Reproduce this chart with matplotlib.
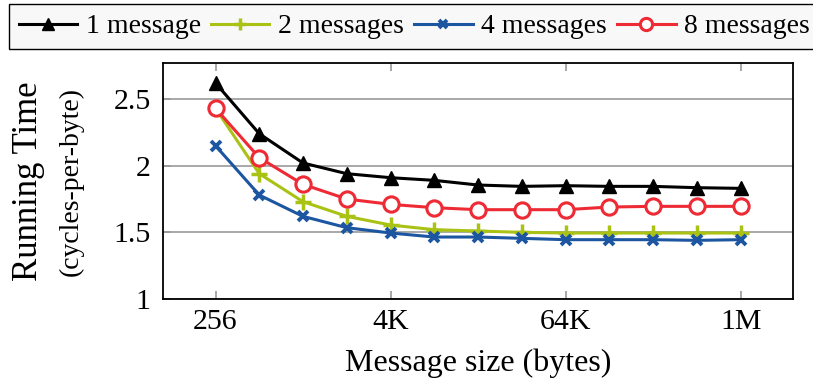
import numpy as np
import matplotlib.pyplot as plt

plt.rcParams['font.family'] = ['Liberation Serif', 'DejaVu Serif']

sizes = [256, 512, 1024, 2048, 4096, 8192, 16384, 32768, 65536,
         131072, 262144, 524288, 1048576]
one_msg = [2.62, 2.24, 2.02, 1.94, 1.91, 1.89, 1.855, 1.845, 1.85, 1.845, 1.845, 1.835, 1.83]
two_msg = [2.43, 1.94, 1.73, 1.62, 1.555, 1.52, 1.51, 1.50, 1.495, 1.495, 1.495, 1.495, 1.495]
four_msg = [2.15, 1.78, 1.62, 1.535, 1.495, 1.465, 1.465, 1.455, 1.445, 1.445, 1.445, 1.44, 1.445]
eight_msg = [2.43, 2.06, 1.86, 1.75, 1.71, 1.685, 1.67, 1.67, 1.67, 1.69, 1.695, 1.695, 1.695]

xticks = [256, 4096, 65536, 1048576]
xticklabels = ['256', '4K', '64K', '1M']
yticks = [1, 1.5, 2, 2.5]
yticklabels = ['1', '1.5', '2', '2.5']

fig = plt.figure(figsize=(8.13, 3.92), dpi=100)
ax = fig.add_axes([0.2005, 0.2372, 0.775, 0.602])

ax.plot(sizes, one_msg, color='black', lw=2.2, marker='^', ms=10, label='1 message')
ax.plot(sizes, two_msg, color='#a9c214', lw=2.2, marker='+', ms=11, mew=2.5, label='2 messages')
ax.plot(sizes, four_msg, color='#1d56a0', lw=2.2, marker='x', ms=7, mew=2.8, label='4 messages')
ax.plot(sizes, eight_msg, color='#ee2a35', lw=2.2, marker='o', ms=11, mfc='white', mew=2.2, label='8 messages')

ax.set_xscale('log', base=2)
ax.set_xlim(2 ** 6.8, 2 ** 21.2)
ax.set_ylim(1, 2.77)
ax.set_xticks(xticks)
ax.set_xticklabels(xticklabels)
ax.minorticks_off()
ax.set_yticks(yticks)
ax.set_yticklabels(yticklabels)
ax.tick_params(axis='both', labelsize=21.5, direction='in', color='#999999', length=6, width=1.2)
ax.tick_params(axis='x', top=True, pad=7)
ax.tick_params(axis='y', pad=9)
ax.grid(axis='y', color='#999999', lw=1.2)
ax.set_axisbelow(True)
for s in ax.spines.values():
    s.set_linewidth(1.3)

ax.set_xlabel('Message size (bytes)', fontsize=23, labelpad=10)
fig.text(0.035, 0.538, 'Running Time', rotation=90, fontsize=25, ha='center', va='center')
fig.text(0.088, 0.536, '(cycles-per-byte)', rotation=90, fontsize=20, ha='center', va='center')

fig.legend(loc='upper left', bbox_to_anchor=(0.006, 1.0), ncol=4, fontsize=20,
           frameon=True, fancybox=False, edgecolor='black', facecolor='#f8f8f8',
           framealpha=1, handlelength=2.1, columnspacing=0.36, handletextpad=0.32,
           borderaxespad=0.15, borderpad=0.35, markerscale=0.8)

fig.savefig('out.png', dpi=100)
